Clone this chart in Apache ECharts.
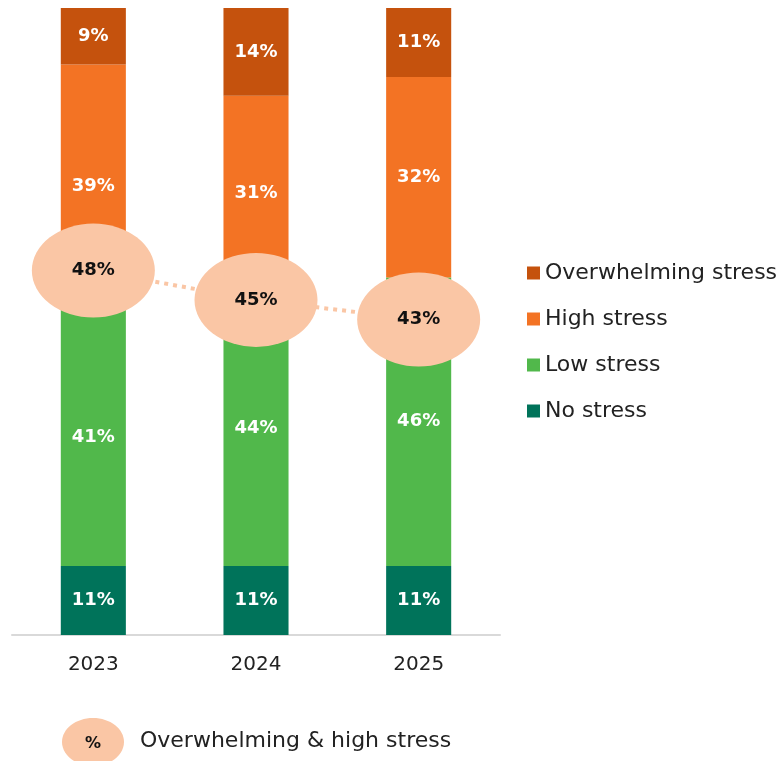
<!DOCTYPE html>
<html>
<head>
<meta charset="utf-8">
<script src="https://cdn.jsdelivr.net/npm/echarts@6/dist/echarts.min.js"></script>
<style>
  html, body { margin: 0; padding: 0; background: #ffffff; }
  #chart { width: 784px; height: 761px; }
</style>
</head>
<body>
<div id="chart"></div>
<script>
// Survey years
const years = ['2023', '2024', '2025'];

// Share of respondents per stress level (%)
const noStress = [11, 11, 11];
const lowStress = [41, 44, 46];
const highStress = [39, 31, 32];
const overwhelmingStress = [9, 14, 11];

// Combined overwhelming & high stress (%)
const combinedStress = [48, 45, 43];

const FONT = 'DejaVu Sans';
const COLORS = {
  none: '#00735A',
  low: '#51B84B',
  high: '#F37324',
  overwhelming: '#C5520D',
  combined: '#FAC6A5'
};

const chart = echarts.init(document.getElementById('chart'));

function barSeries(name, data, color) {
  return {
    name: name,
    type: 'bar',
    stack: 'stress',
    data: data,
    barWidth: '40%',
    itemStyle: { color: color },
    label: {
      show: true,
      position: 'inside',
      formatter: '{c}%',
      color: '#ffffff',
      fontFamily: FONT,
      fontWeight: 'bold',
      fontSize: 18
    },
    emphasis: { disabled: true }
  };
}

chart.setOption({
  animation: false,
  textStyle: { fontFamily: FONT },
  grid: { left: 12, right: 284, top: 8, bottom: 126, containLabel: false },
  legend: {
    data: ['Overwhelming stress', 'High stress', 'Low stress', 'No stress'],
    orient: 'vertical',
    left: 527,
    top: 262,
    padding: 0,
    itemWidth: 13,
    itemHeight: 13,
    itemGap: 24,
    icon: 'rect',
    textStyle: { fontFamily: FONT, fontSize: 22, color: '#222222' },
    selectedMode: false
  },
  xAxis: {
    type: 'category',
    data: years,
    axisLine: { lineStyle: { color: '#D9D9D9', width: 2 } },
    axisTick: { show: false },
    axisLabel: { color: '#222222', fontFamily: FONT, fontSize: 20, margin: 20 }
  },
  yAxis: [
    { type: 'value', min: 0, max: 100, show: false, splitLine: { show: false } },
    { type: 'value', min: 10.8, max: 74.8, show: false, splitLine: { show: false } }
  ],
  series: [
    barSeries('No stress', noStress, COLORS.none),
    barSeries('Low stress', lowStress, COLORS.low),
    barSeries('High stress', highStress, COLORS.high),
    barSeries('Overwhelming stress', overwhelmingStress, COLORS.overwhelming),
    {
      name: 'Overwhelming & high stress',
      type: 'line',
      yAxisIndex: 1,
      data: combinedStress,
      z: 10,
      symbol: 'circle',
      symbolSize: [123, 94],
      itemStyle: { color: COLORS.combined },
      lineStyle: { color: COLORS.combined, width: 4, type: [4, 5] },
      label: {
        show: true,
        position: 'inside',
        formatter: '{c}%',
        color: '#111111',
        fontFamily: FONT,
        fontWeight: 'bold',
        fontSize: 18
      },
      emphasis: { disabled: true }
    }
  ],
  graphic: [
    {
      type: 'ellipse',
      shape: { cx: 93, cy: 742, rx: 31, ry: 24 },
      style: { fill: COLORS.combined }
    },
    {
      type: 'text',
      x: 93, y: 744,
      style: {
        text: '%', fontFamily: FONT, fontWeight: 'bold', fontSize: 16,
        fill: '#111111', align: 'center', verticalAlign: 'middle'
      }
    },
    {
      type: 'text',
      x: 140, y: 741,
      style: {
        text: 'Overwhelming & high stress', fontFamily: FONT, fontSize: 22,
        fill: '#222222', align: 'left', verticalAlign: 'middle'
      }
    }
  ]
});
</script>
</body>
</html>
